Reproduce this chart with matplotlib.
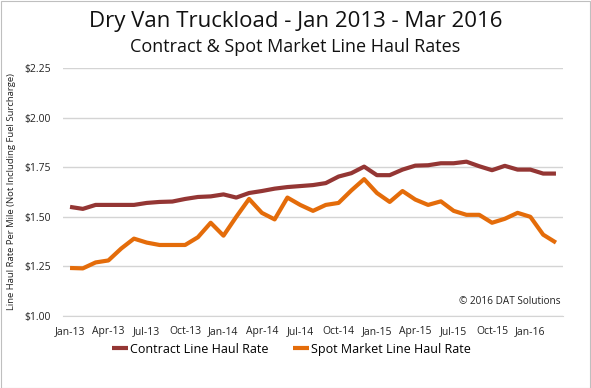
import numpy as np
import matplotlib.pyplot as plt
from matplotlib.patches import Rectangle

months = ['Jan-13', 'Feb-13', 'Mar-13', 'Apr-13', 'May-13', 'Jun-13', 'Jul-13', 'Aug-13', 'Sep-13',
          'Oct-13', 'Nov-13', 'Dec-13', 'Jan-14', 'Feb-14', 'Mar-14', 'Apr-14', 'May-14', 'Jun-14',
          'Jul-14', 'Aug-14', 'Sep-14', 'Oct-14', 'Nov-14', 'Dec-14', 'Jan-15', 'Feb-15', 'Mar-15',
          'Apr-15', 'May-15', 'Jun-15', 'Jul-15', 'Aug-15', 'Sep-15', 'Oct-15', 'Nov-15', 'Dec-15',
          'Jan-16', 'Feb-16', 'Mar-16']

contract = [1.55, 1.54, 1.56, 1.56, 1.56, 1.56, 1.57, 1.575, 1.577, 1.59, 1.60, 1.603, 1.613,
            1.597, 1.62, 1.63, 1.642, 1.65, 1.655, 1.66, 1.67, 1.703, 1.72, 1.753, 1.71, 1.71,
            1.738, 1.758, 1.76, 1.77, 1.77, 1.778, 1.755, 1.735, 1.757, 1.738, 1.738, 1.718, 1.718]

spot = [1.242, 1.24, 1.27, 1.28, 1.34, 1.39, 1.37, 1.358, 1.358, 1.358, 1.397, 1.47, 1.405,
        1.50, 1.59, 1.52, 1.487, 1.597, 1.56, 1.53, 1.56, 1.57, 1.633, 1.69, 1.62, 1.575,
        1.63, 1.587, 1.56, 1.578, 1.53, 1.51, 1.51, 1.47, 1.49, 1.52, 1.50, 1.41, 1.37]

y_ticks = [1.00, 1.25, 1.50, 1.75, 2.00, 2.25]

FONT = 'Open Sans'
C_CONTRACT = '#943634'
C_SPOT = '#E46C0A'

fig = plt.figure(figsize=(5.91, 3.88), dpi=100)
ax = fig.add_axes([0.1066, 0.1856, 0.846, 0.639])

x = np.arange(len(months))
ax.plot(x, contract, color=C_CONTRACT, lw=3.0, label='Contract Line Haul Rate', solid_capstyle='butt')
ax.plot(x, spot, color=C_SPOT, lw=3.0, label='Spot Market Line Haul Rate', solid_capstyle='butt')

ax.set_xlim(-0.55, len(months) - 1 + 0.55)
ax.set_ylim(1.0, 2.25)
ax.set_yticks(y_ticks)
ax.set_yticklabels([f'${v:.2f}' for v in y_ticks], fontsize=7.5, family=FONT, color='#222222')
ax.set_xticks(x[::3])
ax.set_xticklabels(months[::3], fontsize=7.5, family=FONT, color='#222222')
ax.tick_params(axis='both', length=0)
ax.tick_params(axis='y', pad=9)
ax.tick_params(axis='x', pad=7)
ax.grid(axis='y', color='#d4d4d4', lw=1.0)
ax.set_axisbelow(True)
for s in ['top', 'right', 'left']:
    ax.spines[s].set_visible(False)
ax.spines['bottom'].set_color('#d4d4d4')

ax.set_ylabel('Line Haul Rate Per Mile (Not Including Fuel Surcharge)', fontsize=6.8,
              family=FONT, color='#222222')
ax.yaxis.set_label_coords(-0.094, 0.5)

ax.text(0.995, 0.035, '\u00a9 2016 DAT Solutions', transform=ax.transAxes, ha='right',
        va='bottom', fontsize=7.2, family=FONT, color='#222222')

fig.text(0.5, 0.945, 'Dry Van Truckload - Jan 2013 - Mar 2016', ha='center', va='center',
         fontsize=16, family=FONT, color='#111111')
fig.text(0.5, 0.878, 'Contract & Spot Market Line Haul Rates', ha='center', va='center',
         fontsize=13, family=FONT, color='#111111')

fig.legend(loc='center', bbox_to_anchor=(0.493, 0.1), ncol=2, frameon=False,
           prop={'family': FONT, 'size': 9}, handlelength=1.3, handletextpad=0.15,
           columnspacing=2.0)

fig.patches.append(Rectangle((0.001, 0.001), 0.997, 0.997, transform=fig.transFigure,
                             fill=False, edgecolor='#bfbfbf', lw=0.8))

fig.savefig('out.png', dpi=100)
